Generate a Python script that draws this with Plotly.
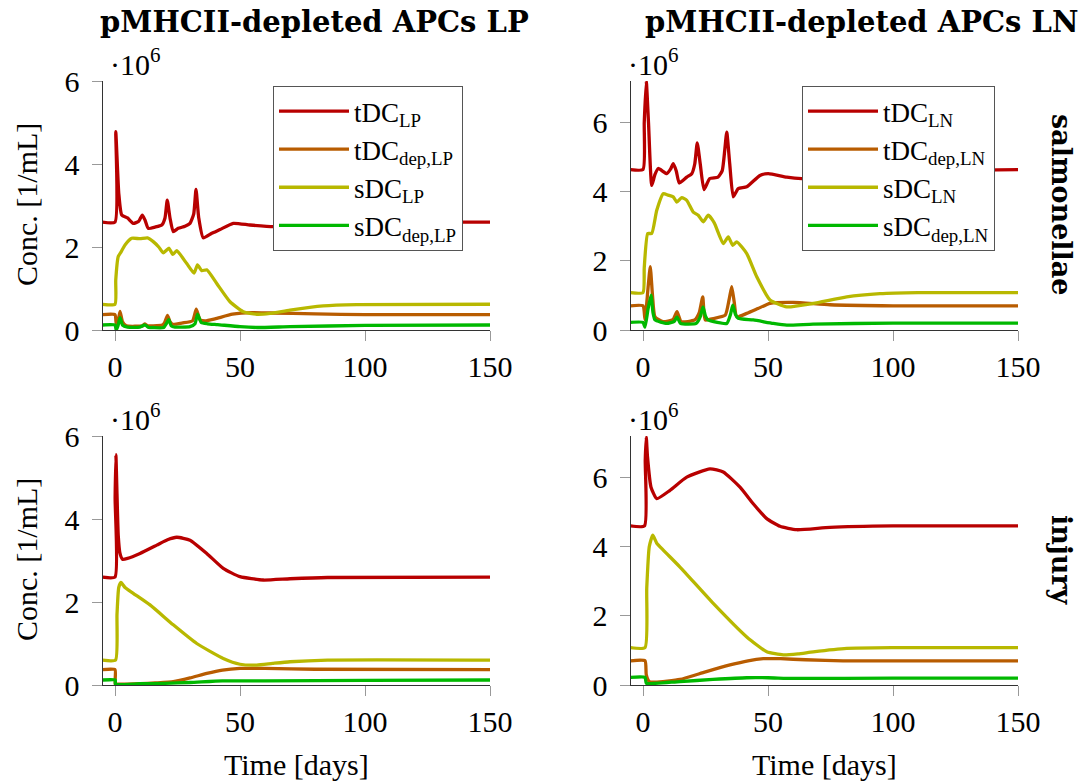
import plotly.graph_objects as go

W, H = 1092, 782

# ---------------- data (time in days, concentration in 1e6 / mL) ----------------
# salmonellae, LP
t_s_lp_tdc = [-5, 0, 0.3, 1.5, 2.7, 5, 7.3, 9.5, 10.9, 12, 13.3, 16, 18.7, 20, 20.9, 22, 23.3, 25.3, 28, 30, 31.5, 32.4, 33.5, 35.3, 38.7, 42, 47.3, 54, 63.3, 75, 90, 110, 150]
v_s_lp_tdc = [2.6, 2.6, 4.78, 3.3, 2.77, 2.7, 2.57, 2.62, 2.77, 2.65, 2.45, 2.48, 2.53, 2.7, 3.13, 2.7, 2.37, 2.45, 2.5, 2.57, 2.8, 3.39, 2.7, 2.22, 2.33, 2.42, 2.57, 2.53, 2.49, 2.52, 2.57, 2.6, 2.6]
t_s_lp_tdcdep = [-5, 0, 0.5, 1.2, 2, 3, 4.5, 8, 11, 12, 13, 15, 19, 20, 21, 22, 23, 27, 31, 32.5, 34, 36, 40, 47, 55, 62, 80, 100, 150]
v_s_lp_tdcdep = [0.37, 0.37, 0.15, 0.2, 0.45, 0.2, 0.1, 0.09, 0.1, 0.15, 0.1, 0.1, 0.12, 0.2, 0.35, 0.2, 0.14, 0.17, 0.22, 0.5, 0.25, 0.22, 0.27, 0.38, 0.42, 0.41, 0.39, 0.37, 0.37]
t_s_lp_sdc = [-5, 0, 0.3, 1.3, 2.5, 4, 6.7, 10, 13, 15.3, 17.5, 19.3, 21.6, 23.1, 24.7, 28.7, 31.6, 33, 34.7, 36.7, 40.7, 46, 51.3, 56.7, 62, 70, 83.3, 96.7, 150]
v_s_lp_sdc = [0.62, 0.62, 1.2, 1.77, 1.89, 2.05, 2.21, 2.2, 2.22, 2.13, 2.0, 1.86, 1.97, 1.82, 1.91, 1.6, 1.37, 1.57, 1.43, 1.45, 1.12, 0.68, 0.44, 0.38, 0.4, 0.48, 0.58, 0.61, 0.62]
t_s_lp_sdcdep = [-5, 0, 0.5, 1.2, 2, 3, 5, 10, 12, 13.5, 15, 19.5, 20.5, 21.5, 22.5, 24, 30, 32, 33, 34.5, 37, 41, 50, 57, 70, 100, 150]
v_s_lp_sdcdep = [0.12, 0.12, 0.0, 0.1, 0.3, 0.12, 0.07, 0.07, 0.12, 0.06, 0.06, 0.06, 0.15, 0.25, 0.1, 0.07, 0.08, 0.15, 0.38, 0.18, 0.15, 0.13, 0.08, 0.06, 0.08, 0.11, 0.12]

# salmonellae, LN
t_s_ln_tdc = [-5, 0, 0.5, 1.3, 2.2, 3.5, 4.8, 6.1, 9.5, 11, 12.1, 13.3, 14.5, 17.5, 19.5, 20.7, 21.7, 22.9, 24.4, 26.7, 30, 31.7, 32.7, 33.5, 34.7, 36.1, 38.1, 41.5, 46.8, 50.1, 57.5, 63.5, 75, 90, 110, 150]
v_s_ln_tdc = [4.64, 4.64, 6.0, 7.2, 6.0, 4.18, 4.5, 4.67, 4.52, 4.65, 4.81, 4.6, 4.25, 4.42, 4.52, 4.8, 5.41, 4.8, 4.06, 4.38, 4.42, 4.61, 5.2, 5.72, 4.8, 3.85, 4.09, 4.14, 4.47, 4.52, 4.42, 4.38, 4.4, 4.5, 4.6, 4.64]
t_s_ln_tdcdep = [-5, 0, 0.8, 2, 2.9, 3.8, 4.8, 8, 12, 13.6, 15.3, 20.7, 22.5, 23.9, 24.9, 28, 32.9, 34.5, 35.5, 36.5, 37.5, 41.5, 46, 50.8, 60.1, 74.8, 100, 150]
v_s_ln_tdcdep = [0.7, 0.7, 0.3, 1.2, 1.83, 1.0, 0.38, 0.24, 0.3, 0.53, 0.24, 0.29, 0.5, 0.96, 0.29, 0.33, 0.43, 0.9, 1.25, 0.8, 0.38, 0.48, 0.62, 0.77, 0.8, 0.73, 0.7, 0.7]
t_s_ln_sdc = [-5, 0, 0.5, 1.9, 3.5, 5.5, 8.1, 10, 12.1, 13.5, 15.5, 17.5, 20.1, 22.1, 24.1, 26.1, 28.5, 32.1, 34.1, 35.9, 37.5, 41.5, 45.5, 50.8, 57.5, 68.1, 81.5, 94.8, 110, 150]
v_s_ln_sdc = [1.08, 1.08, 1.8, 2.79, 2.79, 3.46, 3.94, 3.9, 3.85, 3.7, 3.83, 3.75, 3.41, 3.32, 3.13, 3.32, 3.1, 2.5, 2.69, 2.45, 2.55, 2.21, 1.54, 0.87, 0.67, 0.77, 0.96, 1.05, 1.08, 1.08]
t_s_ln_sdcdep = [-5, 0, 0.8, 2, 3.2, 4, 4.8, 9.5, 12.5, 13.6, 15, 21.3, 23, 24, 25, 26, 33.5, 35, 35.9, 37, 38.1, 44.1, 52.1, 57.5, 68, 100, 150]
v_s_ln_sdcdep = [0.22, 0.22, 0.08, 0.6, 1.01, 0.5, 0.29, 0.19, 0.25, 0.38, 0.19, 0.19, 0.4, 0.67, 0.4, 0.29, 0.19, 0.45, 0.72, 0.45, 0.34, 0.29, 0.19, 0.14, 0.17, 0.2, 0.2]

# injury, LP
t_i_lp_tdc = [-5, 0, 0.05, 0.35, 0.8, 1.3, 2, 3, 5, 10, 16.7, 21, 24.7, 30, 36.7, 43.3, 50, 59.3, 70, 85, 150]
v_i_lp_tdc = [2.6, 2.6, 4.5, 5.55, 4.6, 3.6, 3.17, 3.03, 3.05, 3.17, 3.37, 3.5, 3.56, 3.49, 3.17, 2.81, 2.61, 2.53, 2.56, 2.59, 2.6]
t_i_lp_tdcdep = [-5, 0, 0.1, 1, 5, 10, 16, 23.3, 30, 36.7, 43, 50, 60, 80, 150]
v_i_lp_tdcdep = [0.37, 0.37, 0.02, 0.02, 0.02, 0.03, 0.05, 0.08, 0.17, 0.28, 0.36, 0.4, 0.4, 0.38, 0.37]
t_i_lp_sdc = [-5, 0.2, 0.8, 1.5, 2.4, 4, 7.3, 14, 23.3, 32.7, 43.3, 50, 56.7, 63, 70, 85, 150]
v_i_lp_sdc = [0.6, 0.6, 1.7, 2.35, 2.47, 2.35, 2.21, 1.93, 1.45, 1.0, 0.64, 0.5, 0.48, 0.52, 0.56, 0.6, 0.6]
t_i_lp_sdcdep = [-5, 0.1, 0.2, 10, 20, 30, 43, 60, 100, 150]
v_i_lp_sdcdep = [0.12, 0.12, 0.02, 0.03, 0.04, 0.06, 0.1, 0.1, 0.11, 0.12]

# injury, LN
t_i_ln_tdc = [-5, 0.6, 0.9, 1.3, 1.8, 3.2, 5.5, 10.8, 17.5, 26.8, 32.1, 38.8, 44.1, 49.5, 54.8, 61.5, 74.8, 100, 150]
v_i_ln_tdc = [4.6, 4.6, 6.5, 7.17, 6.6, 5.72, 5.39, 5.63, 6.01, 6.25, 6.16, 5.72, 5.24, 4.81, 4.59, 4.49, 4.56, 4.6, 4.6]
t_i_ln_tdcdep = [-5, 0.8, 1.3, 2.5, 5, 14.8, 25, 34.8, 42, 48.1, 55, 65, 80, 150]
v_i_ln_tdcdep = [0.7, 0.7, 0.3, 0.1, 0.08, 0.16, 0.38, 0.58, 0.7, 0.76, 0.76, 0.73, 0.7, 0.7]
t_i_ln_sdc = [-5, 0.8, 1.5, 2.5, 3.9, 5.5, 8.1, 14.8, 28.1, 41.5, 49.5, 56.1, 62, 68.1, 81.5, 100, 150]
v_i_ln_sdc = [1.08, 1.08, 2.8, 4.0, 4.33, 4.1, 3.9, 3.41, 2.36, 1.39, 0.96, 0.87, 0.9, 0.96, 1.06, 1.08, 1.08]
t_i_ln_sdcdep = [-5, 0.8, 1.3, 3, 14.8, 28, 41.5, 50, 60, 100, 150]
v_i_ln_sdcdep = [0.22, 0.22, 0.05, 0.04, 0.1, 0.16, 0.21, 0.21, 0.19, 0.2, 0.2]

x_ticks = [0, 50, 100, 150]
y_ticks = [0, 2, 4, 6]
col_titles = ["pMHCII-depleted APCs LP", "pMHCII-depleted APCs LN"]
row_titles = ["salmonellae", "injury"]

names_lp = ["tDC<sub>LP</sub>", "tDC<sub>dep,LP</sub>", "sDC<sub>LP</sub>", "sDC<sub>dep,LP</sub>"]
names_ln = ["tDC<sub>LN</sub>", "tDC<sub>dep,LN</sub>", "sDC<sub>LN</sub>", "sDC<sub>dep,LN</sub>"]
colors = ["#b80000", "#b85c00", "#b8b800", "#00b800"]

panels = [
    ("", [(t_s_lp_tdc, v_s_lp_tdc), (t_s_lp_tdcdep, v_s_lp_tdcdep), (t_s_lp_sdc, v_s_lp_sdc), (t_s_lp_sdcdep, v_s_lp_sdcdep)], names_lp, True, "legend"),
    ("2", [(t_s_ln_tdc, v_s_ln_tdc), (t_s_ln_tdcdep, v_s_ln_tdcdep), (t_s_ln_sdc, v_s_ln_sdc), (t_s_ln_sdcdep, v_s_ln_sdcdep)], names_ln, True, "legend2"),
    ("3", [(t_i_lp_tdc, v_i_lp_tdc), (t_i_lp_tdcdep, v_i_lp_tdcdep), (t_i_lp_sdc, v_i_lp_sdc), (t_i_lp_sdcdep, v_i_lp_sdcdep)], names_lp, False, "legend"),
    ("4", [(t_i_ln_tdc, v_i_ln_tdc), (t_i_ln_tdcdep, v_i_ln_tdcdep), (t_i_ln_sdc, v_i_ln_sdc), (t_i_ln_sdcdep, v_i_ln_sdcdep)], names_ln, False, "legend2"),
]

fig = go.Figure()
for suf, series, names, show, leg in panels:
    for (t, v), nm, c in zip(series, names, colors):
        fig.add_trace(go.Scatter(
            x=t, y=v, mode="lines", name=nm,
            line=dict(color=c, width=3.3, shape="spline", smoothing=0.5),
            xaxis="x" + suf, yaxis="y" + suf,
            showlegend=show, legend=leg,
        ))

def px_x(p):
    return p / W

def px_y(p):
    return 1 - p / H

FONT = "Liberation Serif"
TFONT = 30
BFONT = "DejaVu Serif"

# pixel geometry of the panels
cols_px = [(102.5, 490), (630.5, 1018)]
rows_px = [(81, 330), (436, 685)]
yr = [[0, 6], [0, 7.2]]

lay = {}
k = 0
for r in range(2):
    for c in range(2):
        k += 1
        suf = "" if k == 1 else str(k)
        x0, x1 = cols_px[c]
        yt, yb = rows_px[r]
        common = dict(
            ticks="outside", ticklen=10, tickcolor="#999999", tickwidth=1,
            showline=True, linecolor="#333333", linewidth=1, showgrid=False, zeroline=False,
            tickfont=dict(family=FONT, size=TFONT, color="black"), automargin=False,
        )
        lay["xaxis" + suf] = dict(domain=[px_x(x0), px_x(x1)], range=[-5, 150], anchor="y" + suf,
                                  tickvals=x_ticks, **common)
        lay["yaxis" + suf] = dict(domain=[px_y(yb), px_y(yt)], range=yr[c], anchor="x" + suf,
                                  tickvals=y_ticks, ticklabelstandoff=6, **common)

ann = []
# column titles
for ct, xl in zip(col_titles, [98, 643]):
    ann.append(dict(text="<b>" + ct + "</b>", x=px_x(xl), y=px_y(22), xanchor="left", yanchor="middle",
                    xref="paper", yref="paper", showarrow=False, font=dict(family=BFONT, size=29, color="black")))
# row titles
for rt, yc in zip(row_titles, [205, 560]):
    ann.append(dict(text="<b>" + rt + "</b>", x=px_x(1062), y=px_y(yc), xanchor="center", yanchor="middle",
                    xref="paper", yref="paper", showarrow=False, textangle=90,
                    font=dict(family=BFONT, size=27, color="black")))
# y axis titles
for yc in [205, 560]:
    ann.append(dict(text="Conc. [1/mL]", x=px_x(26), y=px_y(yc), xanchor="center", yanchor="middle",
                    xref="paper", yref="paper", showarrow=False, textangle=-90,
                    font=dict(family=FONT, size=TFONT, color="black")))
# x axis titles
for xc in [296, 824]:
    ann.append(dict(text="Time [days]", x=px_x(xc), y=px_y(764), xanchor="center", yanchor="middle",
                    xref="paper", yref="paper", showarrow=False,
                    font=dict(family=FONT, size=TFONT, color="black")))
# exponent labels
for xl, yc in [(108, 62), (626, 62), (108, 417), (626, 417)]:
    ann.append(dict(text="·10<sup>6</sup>", x=px_x(xl), y=px_y(yc), xanchor="left", yanchor="middle",
                    xref="paper", yref="paper", showarrow=False,
                    font=dict(family=FONT, size=TFONT, color="black")))

legend_style = dict(bgcolor="white", bordercolor="#555555", borderwidth=1,
                    font=dict(family=FONT, size=27, color="black"),
                    itemwidth=70,
                    xanchor="left", yanchor="top", xref="paper", yref="paper")

fig.update_layout(
    width=W, height=H, margin=dict(l=0, r=0, t=0, b=0),
    paper_bgcolor="white", plot_bgcolor="white",
    annotations=ann,
    legend=dict(x=px_x(273), y=px_y(86), **legend_style),
    legend2=dict(x=px_x(802), y=px_y(86), **legend_style),
    **lay,
)

fig.write_html(
    "out.html",
    config={"displayModeBar": False},
    post_script="document.body.style.margin='0px';document.body.style.padding='0px';"
                "document.documentElement.style.overflow='hidden';",
)
